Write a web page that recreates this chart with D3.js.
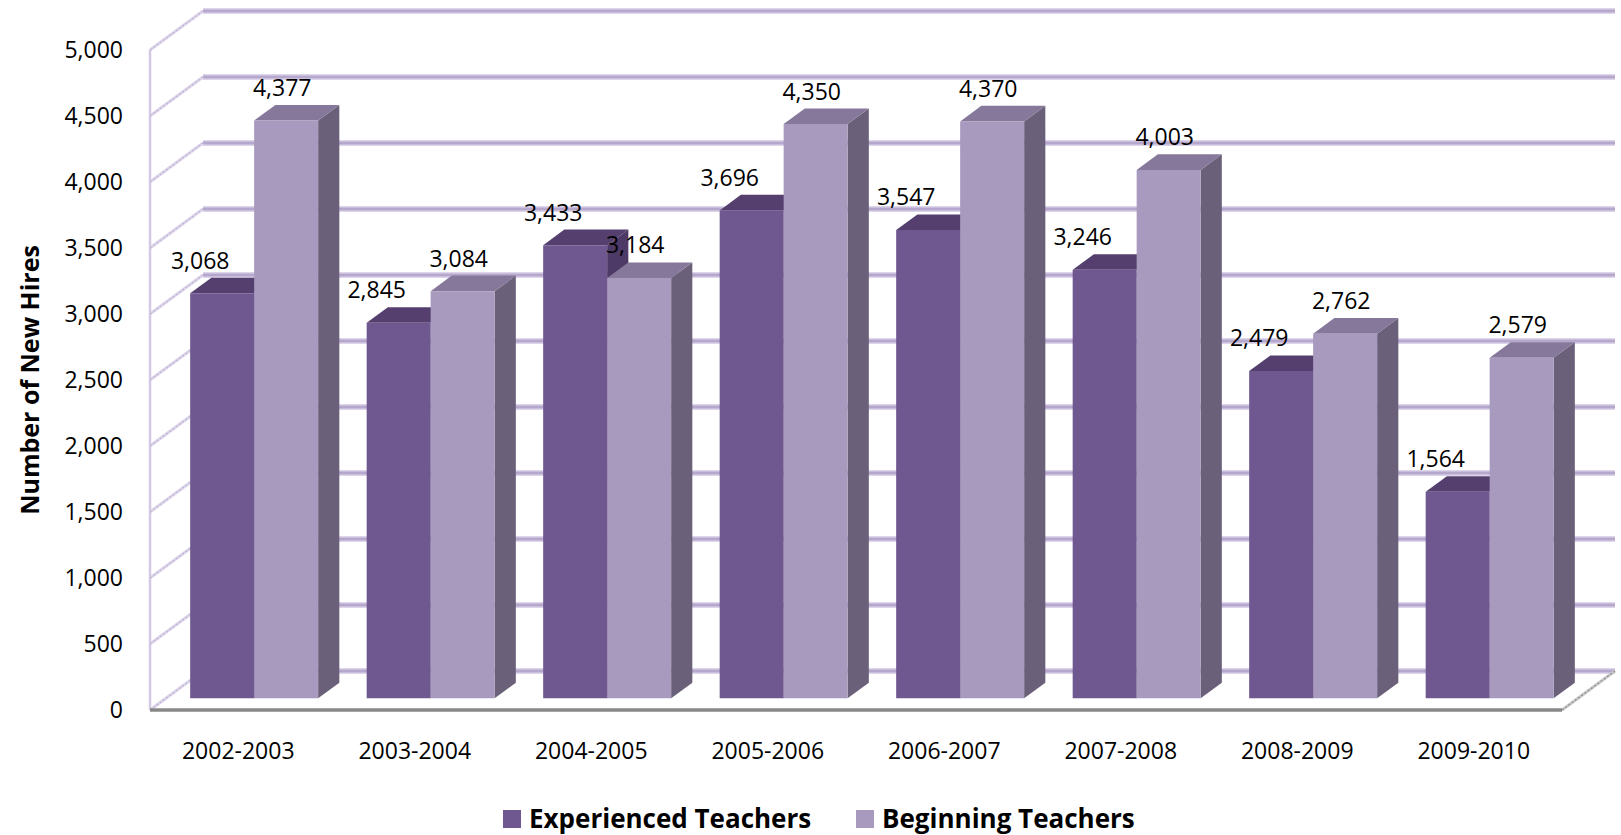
<!DOCTYPE html>
<html>
<head>
<meta charset="utf-8">
<script src="https://cdn.jsdelivr.net/npm/d3@7"></script>
<style>
	body { margin: 0; background: #fff; }
	text { font-family: "Open Sans", sans-serif; }
</style>
</head>
<body>
<div id="chart-area"></div>
<script>
// data
let categories = ["2002-2003", "2003-2004", "2004-2005", "2005-2006", "2006-2007", "2007-2008", "2008-2009", "2009-2010"];
let experienced = [3068, 2845, 3433, 3696, 3547, 3246, 2479, 1564];
let beginning = [4377, 3084, 3184, 4350, 4370, 4003, 2762, 2579];
let seriesNames = ["Experienced Teachers", "Beginning Teachers"];
let yTicks = [0, 500, 1000, 1500, 2000, 2500, 3000, 3500, 4000, 4500, 5000];

// SVG Size
let width = 1621,
	height = 835;

// 3d box: screen offset of the back wall, and depth range of the bars
let depthX = 53, depthY = 39;
let barZ0 = 0.3, barZ1 = 0.7;

let colors = [
	{front: "#6F5790", top: "#553F6E", side: "#4E3A66"},
	{front: "#A899BE", top: "#85789A", side: "#6B6079"}
];

let svg = d3.select('#chart-area').append('svg')
	.attr('width', width)
	.attr('height', height);

let yScale = d3.scaleLinear()
	.domain([0, 5000])
	.range([710, 50]);

let xScale = d3.scaleBand()
	.domain(categories)
	.range([150, 1562])
	.paddingInner(0.275)
	.paddingOuter(0.1375);

let seriesScale = d3.scaleBand()
	.domain(seriesNames)
	.range([0, xScale.bandwidth()]);

// project a point (x on front plane, value, depth 0..1) to the screen
function proj(x, v, z){
	return [x + z * depthX, yScale(v) - z * depthY];
}
function pts(list){
	return list.map(p => p.join(",")).join(" ");
}

let x0 = xScale.range()[0], x1 = xScale.range()[1];

// back wall gridlines
let back = svg.append('g').attr('class', 'back-wall');
yTicks.forEach(v => {
	let a = proj(x0, v, 1), b = proj(x1, v, 1);
	back.append('line')
		.attr('x1', a[0]).attr('y1', a[1]).attr('x2', b[0]).attr('y2', b[1])
		.attr('stroke', '#DDD5EA').attr('stroke-width', 6);
	back.append('line')
		.attr('x1', a[0]).attr('y1', a[1]).attr('x2', b[0]).attr('y2', b[1])
		.attr('stroke', '#B6A7CD').attr('stroke-width', 3);
});

// left wall
let side = svg.append('g').attr('class', 'side-wall');
side.append('line')
	.attr('x1', x0).attr('y1', yScale(0)).attr('x2', x0).attr('y2', yScale(5000))
	.attr('stroke', '#D2C9E2').attr('stroke-width', 2.5);
yTicks.forEach(v => {
	let a = proj(x0, v, 0), b = proj(x0, v, 1);
	side.append('line')
		.attr('x1', a[0]).attr('y1', a[1]).attr('x2', b[0]).attr('y2', b[1])
		.attr('stroke', '#DCD4E9').attr('stroke-width', 3);
	side.append('line')
		.attr('x1', a[0]).attr('y1', a[1]).attr('x2', b[0]).attr('y2', b[1])
		.attr('stroke', '#C2B6D7').attr('stroke-width', 1.2)
		.attr('stroke-dasharray', '2,2');
});

// floor edges
let f0 = proj(x1, 0, 0), f1 = proj(x1, 0, 1);
svg.append('line')
	.attr('x1', f0[0]).attr('y1', f0[1]).attr('x2', f1[0]).attr('y2', f1[1])
	.attr('stroke', '#C8C8C8').attr('stroke-width', 3);
svg.append('line')
	.attr('x1', f0[0]).attr('y1', f0[1]).attr('x2', f1[0]).attr('y2', f1[1])
	.attr('stroke', '#8F8F8F').attr('stroke-width', 1.2)
	.attr('stroke-dasharray', '2,2');
svg.append('line')
	.attr('x1', x0).attr('y1', yScale(0)).attr('x2', x1).attr('y2', yScale(0))
	.attr('stroke', '#888888').attr('stroke-width', 3.5);

// bars
let bars = [];
categories.forEach((c, i) => {
	bars.push({cat: c, k: 0, value: experienced[i]});
	bars.push({cat: c, k: 1, value: beginning[i]});
});

let barG = svg.selectAll('g.bar')
	.data(bars)
	.enter()
	.append('g')
	.attr('class', 'bar');

barG.each(function(d){
	let g = d3.select(this);
	let left = xScale(d.cat) + seriesScale(seriesNames[d.k]);
	let right = left + seriesScale.bandwidth();
	let c = colors[d.k];
	g.append('polygon')
		.attr('points', pts([proj(right, 0, barZ0), proj(right, 0, barZ1), proj(right, d.value, barZ1), proj(right, d.value, barZ0)]))
		.attr('fill', c.side);
	g.append('polygon')
		.attr('points', pts([proj(left, d.value, barZ0), proj(right, d.value, barZ0), proj(right, d.value, barZ1), proj(left, d.value, barZ1)]))
		.attr('fill', c.top);
	g.append('polygon')
		.attr('points', pts([proj(left, 0, barZ0), proj(right, 0, barZ0), proj(right, d.value, barZ0), proj(left, d.value, barZ0)]))
		.attr('fill', c.front);
});

// value labels
svg.selectAll('text.value')
	.data(bars)
	.enter()
	.append('text')
	.attr('class', 'value')
	.attr('x', d => xScale(d.cat) + seriesScale(seriesNames[d.k]) + seriesScale.bandwidth() / 2 + (d.k == 0 ? -6 : 12))
	.attr('y', d => proj(0, d.value, barZ1)[1] - 9)
	.attr('text-anchor', 'middle')
	.attr('font-size', 23)
	.attr('fill', '#000')
	.text(d => d3.format(",")(d.value));

// axes
let yaxis = d3.axisLeft(yScale)
	.tickValues(yTicks)
	.tickFormat(d3.format(","))
	.tickSize(0)
	.tickPadding(27);

svg.append('g')
	.attr('class', 'y-axis axis')
	.attr('transform', 'translate(' + x0 + ',0)')
	.call(yaxis)
	.call(g => g.select('.domain').remove())
	.selectAll('text')
	.attr('font-size', 23)
	.attr('font-family', '"Open Sans", sans-serif')
	.attr('fill', '#000');

let xaxis = d3.axisBottom(xScale)
	.tickSize(0)
	.tickPadding(33);

svg.append('g')
	.attr('class', 'x-axis axis')
	.attr('transform', 'translate(0,' + yScale(0) + ')')
	.call(xaxis)
	.call(g => g.select('.domain').remove())
	.selectAll('text')
	.attr('font-size', 23)
	.attr('font-family', '"Open Sans", sans-serif')
	.attr('fill', '#000');

// y title
svg.append('text')
	.attr('transform', 'translate(39,380) rotate(-90)')
	.attr('text-anchor', 'middle')
	.attr('font-size', 25)
	.attr('font-weight', 'bold')
	.text("Number of New Hires");

// legend
let legendX = [503, 856];
let legend = svg.selectAll('g.legend')
	.data(seriesNames)
	.enter()
	.append('g')
	.attr('class', 'legend')
	.attr('transform', (d, i) => 'translate(' + legendX[i] + ',810)');

legend.append('rect')
	.attr('width', 18)
	.attr('height', 18)
	.attr('fill', (d, i) => colors[i].front);

legend.append('text')
	.attr('x', 26)
	.attr('y', 18)
	.attr('font-size', 26)
	.attr('font-weight', 'bold')
	.text(d => d);
</script>
</body>
</html>
